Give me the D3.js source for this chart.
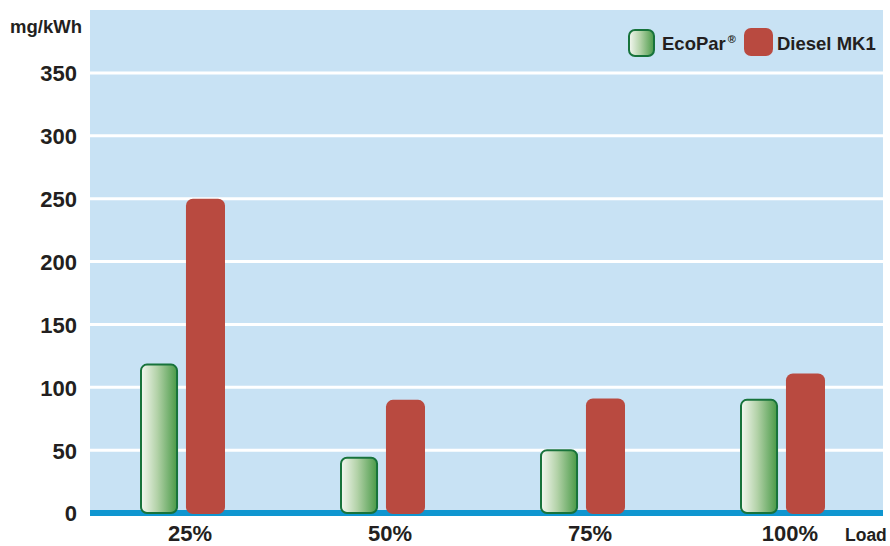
<!DOCTYPE html>
<html>
<head>
<meta charset="utf-8">
<script src="https://cdn.jsdelivr.net/npm/d3@7"></script>
<style>
  body { margin: 0; background: #fff; }
  svg text { font-family: "Liberation Sans", Arial, sans-serif; font-weight: bold; fill: #231f20; }
</style>
</head>
<body>
<div id="chart"></div>
<script>
// data
var loads = ["25%", "50%", "75%", "100%"];
var seriesNames = ["EcoPar", "Diesel MK1"];
var ecoPar = [118, 44, 50, 90];
var diesel = [250, 90, 91, 111];
var yTicks = [0, 50, 100, 150, 200, 250, 300, 350];

var W = 890, H = 546;
var plot = { left: 90, right: 883, top: 10, bottom: 513 };

var svg = d3.select("#chart").append("svg")
  .attr("width", W)
  .attr("height", H);

var defs = svg.append("defs");
var grad = defs.append("linearGradient")
  .attr("id", "greenGrad")
  .attr("x1", "0%").attr("x2", "100%")
  .attr("y1", "0%").attr("y2", "0%");
grad.append("stop").attr("offset", "0%").attr("stop-color", "#f4f8f1");
grad.append("stop").attr("offset", "45%").attr("stop-color", "#b3d2a8");
grad.append("stop").attr("offset", "100%").attr("stop-color", "#4a9a48");

var x = d3.scaleBand().domain(loads).range([90, 890]);
var xs = d3.scaleBand().domain(seriesNames).range([50, 135]).paddingInner(0.19);
var y = d3.scaleLinear().domain([0, 400]).range([plot.bottom, plot.top]);

// background
svg.append("rect")
  .attr("x", plot.left)
  .attr("y", plot.top)
  .attr("width", plot.right - plot.left)
  .attr("height", plot.bottom - plot.top)
  .attr("fill", "#c8e2f4");

// grid lines
svg.append("g")
  .selectAll("line")
  .data(yTicks.filter(function(d) { return d > 0; }))
  .enter()
  .append("line")
  .attr("x1", plot.left)
  .attr("x2", plot.right)
  .attr("y1", function(d) { return y(d); })
  .attr("y2", function(d) { return y(d); })
  .attr("stroke", "#fff")
  .attr("stroke-width", 3);

// baseline
svg.append("line")
  .attr("x1", plot.left)
  .attr("x2", plot.right)
  .attr("y1", y(0))
  .attr("y2", y(0))
  .attr("stroke", "#0f96d0")
  .attr("stroke-width", 6);

// y axis
var yAxis = d3.axisLeft(y).tickValues(yTicks).tickSize(0).tickPadding(0);
var gy = svg.append("g")
  .attr("transform", "translate(77,0)")
  .call(yAxis);
gy.select(".domain").remove();
gy.selectAll("text")
  .attr("font-size", 22)
  .attr("font-family", null)
  .attr("dy", "0.36em")
  .attr("fill", "#231f20");

// x axis
var xAxis = d3.axisBottom(x).tickSize(0).tickPadding(0);
var gx = svg.append("g")
  .attr("transform", "translate(0,541)")
  .call(xAxis);
gx.select(".domain").remove();
gx.selectAll("text")
  .attr("font-size", 22)
  .attr("font-family", null)
  .attr("dy", 0)
  .attr("y", 0)
  .attr("fill", "#231f20");

// bars
var groups = svg.selectAll(".grp")
  .data(loads)
  .enter()
  .append("g")
  .attr("class", "grp")
  .attr("transform", function(d) { return "translate(" + x(d) + ",0)"; });

groups.append("rect")
  .attr("x", xs("EcoPar") + 1)
  .attr("width", xs.bandwidth() - 2)
  .attr("y", function(d, i) { return y(ecoPar[i]); })
  .attr("height", function(d, i) { return y(0) - y(ecoPar[i]); })
  .attr("rx", 6)
  .attr("fill", "url(#greenGrad)")
  .attr("stroke", "#17733b")
  .attr("stroke-width", 2);

groups.append("rect")
  .attr("x", xs("Diesel MK1") - 1)
  .attr("width", xs.bandwidth() + 1)
  .attr("y", function(d, i) { return y(diesel[i]); })
  .attr("height", function(d, i) { return y(0) - y(diesel[i]) + 1; })
  .attr("rx", 7)
  .attr("fill", "#b94a40");

// axis titles
svg.append("text")
  .attr("x", 10)
  .attr("y", 33)
  .attr("font-size", 18.5)
  .text("mg/kWh");

svg.append("text")
  .attr("x", 845)
  .attr("y", 541)
  .attr("font-size", 17.5)
  .text("Load");

// legend
var lg = svg.append("g");
lg.append("rect")
  .attr("x", 629).attr("y", 30)
  .attr("width", 25).attr("height", 26)
  .attr("rx", 6)
  .attr("fill", "url(#greenGrad)")
  .attr("stroke", "#17733b")
  .attr("stroke-width", 2);
var t1 = lg.append("text")
  .attr("x", 662).attr("y", 50)
  .attr("font-size", 18.5);
t1.append("tspan").text("EcoPar");
t1.append("tspan")
  .attr("font-size", 11)
  .attr("dx", 2)
  .attr("dy", -7)
  .text("®");

lg.append("rect")
  .attr("x", 744).attr("y", 28)
  .attr("width", 29).attr("height", 28)
  .attr("rx", 7)
  .attr("fill", "#b94a40");
lg.append("text")
  .attr("x", 777).attr("y", 50)
  .attr("font-size", 18.5)
  .text("Diesel MK1");
</script>
</body>
</html>
